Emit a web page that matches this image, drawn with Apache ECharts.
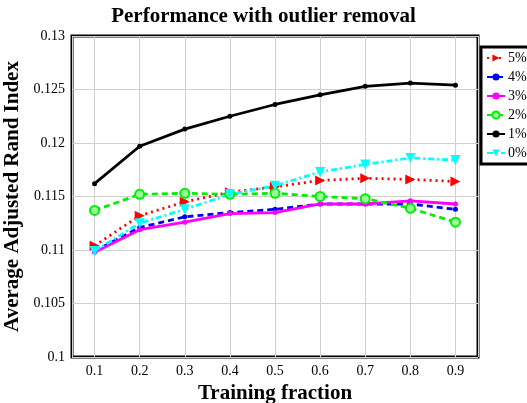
<!DOCTYPE html>
<html>
<head>
<meta charset="utf-8">
<script src="https://cdn.jsdelivr.net/npm/echarts@6/dist/echarts.min.js"></script>
<style>
html,body{margin:0;padding:0;background:#fff;}
#chart{width:527px;height:403px;}
</style>
</head>
<body>
<div id="chart"></div>
<script>
const fractions = [0.1, 0.2, 0.3, 0.4, 0.5, 0.6, 0.7, 0.8, 0.9];
const seriesNames = ['5%', '4%', '3%', '2%', '1%', '0%'];
const p5 = [0.1104, 0.1132, 0.1145, 0.1154, 0.1159, 0.1165, 0.1167, 0.1166, 0.1164];
const p4 = [0.1099, 0.1121, 0.1131, 0.1135, 0.1138, 0.1143, 0.1143, 0.1143, 0.1138];
const p3 = [0.1098, 0.1119, 0.1126, 0.1134, 0.1135, 0.1143, 0.1143, 0.1146, 0.1143];
const p2 = [0.1137, 0.1152, 0.1153, 0.1152, 0.1153, 0.1150, 0.1148, 0.1139, 0.1126];
const p1 = [0.1162, 0.1197, 0.1213, 0.1225, 0.1236, 0.1245, 0.1253, 0.1256, 0.1254];
const p0 = [0.1099, 0.1125, 0.1138, 0.1152, 0.1160, 0.1173, 0.1180, 0.1186, 0.1184];
const yTicks = [0.1, 0.105, 0.11, 0.115, 0.12, 0.125, 0.13];

const serif = '"Liberation Serif", "DejaVu Serif", serif';
const pairs = arr => fractions.map((f, i) => [f, arr[i]]);

const styles = [
  {data: p5, color: '#ff0000', type: [2, 4], width: 2.8, symbol: 'triangle', rotate: -90, size: 10},
  {data: p4, color: '#0000ff', type: [6, 4], width: 2.8, symbol: 'circle', rotate: 0, size: 5},
  {data: p3, color: '#ff00ff', type: 'solid', width: 2.8, symbol: 'circle', rotate: 0, size: 5},
  {data: p2, color: '#00ee00', type: [6, 4], width: 2.8, symbol: 'circle', rotate: 0, size: 9, fill: '#9cff9c'},
  {data: p1, color: '#000000', type: 'solid', width: 2.8, symbol: 'circle', rotate: 0, size: 5},
  {data: p0, color: '#00ffff', type: [6, 3, 2, 3], width: 2.8, symbol: 'triangle', rotate: 180, size: 10}
];

const chart = echarts.init(document.getElementById('chart'), null, {renderer: 'canvas'});
chart.setOption({
  animation: false,
  backgroundColor: '#fff',
  title: {
    text: 'Performance with outlier removal',
    left: 'center',
    top: 1,
    textStyle: {fontFamily: serif, fontWeight: 'bold', fontSize: 21, color: '#000'}
  },
  grid: {
    left: 72, right: 49, top: 36, bottom: 46,
    containLabel: false, outerBoundsMode: 'none',
    show: true, borderColor: '#000', borderWidth: 3, backgroundColor: 'transparent'
  },
  legend: {
    orient: 'vertical',
    left: 481, top: 47,
    data: seriesNames,
    backgroundColor: '#fff',
    borderColor: '#000', borderWidth: 3, borderRadius: 0,
    padding: [4, 30, 4, 5],
    itemWidth: 18, itemHeight: 9, itemGap: 5,
    textStyle: {fontFamily: serif, fontSize: 14, color: '#000', padding: [0, 0, 0, -2]}
  },
  xAxis: {
    type: 'value',
    min: 0.05, max: 0.95,
    splitNumber: 9, minInterval: 0.1, maxInterval: 0.1,
    name: 'Training fraction',
    nameLocation: 'middle', nameGap: 23,
    nameTextStyle: {fontFamily: serif, fontWeight: 'bold', fontSize: 21, color: '#000'},
    axisLine: {show: false},
    axisTick: {show: false},
    axisLabel: {showMinLabel: false, showMaxLabel: false, fontFamily: serif, fontSize: 14, color: '#000', margin: 7},
    splitLine: {show: true, lineStyle: {color: '#d0d0d0', width: 1}}
  },
  yAxis: {
    type: 'value',
    min: yTicks[0], max: yTicks[yTicks.length - 1], interval: 0.005,
    name: 'Average Adjusted Rand Index',
    nameLocation: 'middle', nameGap: 44,
    nameTextStyle: {fontFamily: serif, fontWeight: 'bold', fontSize: 21, color: '#000'},
    axisLine: {show: false},
    axisTick: {show: false},
    axisLabel: {fontFamily: serif, fontSize: 14, color: '#000', margin: 7,
      formatter: v => String(+v.toFixed(4))},
    splitLine: {show: true, lineStyle: {color: '#d0d0d0', width: 1}}
  },
  series: styles.map((s, i) => ({
    name: seriesNames[i],
    type: 'line',
    data: pairs(s.data),
    symbol: s.symbol,
    symbolSize: s.size,
    symbolRotate: s.rotate,
    showAllSymbol: true,
    lineStyle: {color: s.color, width: s.width, type: s.type},
    itemStyle: {color: s.fill || s.color, borderColor: s.color, borderWidth: s.fill ? 2 : 0, opacity: 1},
    emphasis: {disabled: true}
  }))
});
</script>
</body>
</html>
